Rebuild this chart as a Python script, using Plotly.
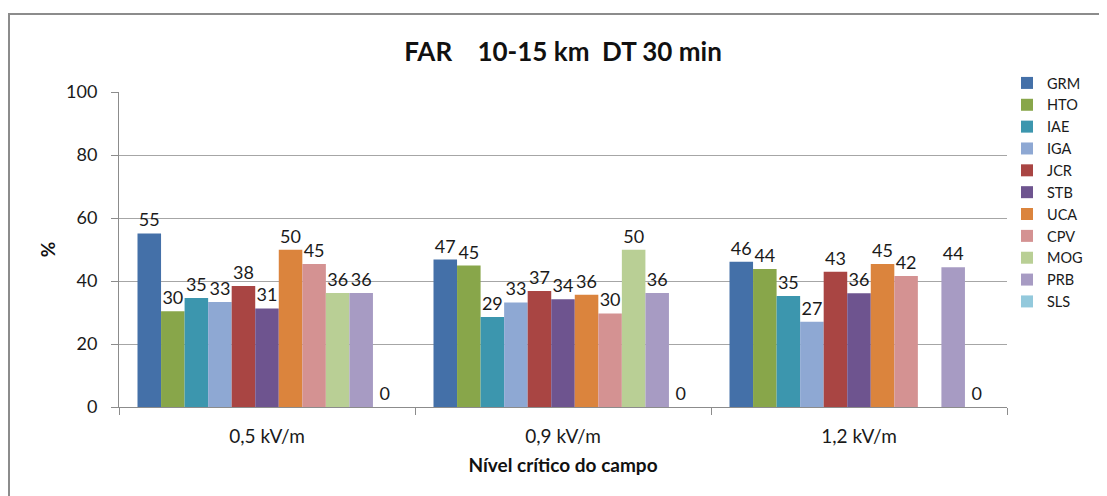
import plotly.graph_objects as go

categories = ["0,5 kV/m", "0,9 kV/m", "1,2 kV/m"]
series_names = ["GRM", "HTO", "IAE", "IGA", "JCR", "STB", "UCA", "CPV", "MOG", "PRB", "SLS"]

GRM = [55.1, 46.8, 46.1]
HTO = [30.4, 44.9, 43.8]
IAE = [34.6, 28.6, 35.2]
IGA = [33.3, 33.2, 27.1]
JCR = [38.4, 36.8, 42.9]
STB = [31.3, 34.2, 36.1]
UCA = [49.9, 35.6, 45.4]
CPV = [45.4, 29.7, 41.6]
MOG = [36.2, 49.9, None]
PRB = [36.2, 36.2, 44.4]
SLS = [0, 0, 0]

series_values = [GRM, HTO, IAE, IGA, JCR, STB, UCA, CPV, MOG, PRB, SLS]
colors = ["#4470A8", "#88A64A", "#3C96AE", "#8EA8D3", "#A94543", "#6E548F",
          "#DB843D", "#D49292", "#B9CF95", "#A79BC3", "#93C9DC"]

y_ticks = [0, 20, 40, 60, 80, 100]

FONT = "Lato, Open Sans, sans-serif"

# page has an 8px body margin; figure is sized so the drawing lands where the reference has it
W, H = 1099, 488
ML, MT, MR, MB = 111, 84, 100, 89
PW, PH = W - ML - MR, H - MT - MB

fig = go.Figure()
for name, vals, col in zip(series_names, series_values, colors):
    fig.add_trace(go.Bar(
        name=name, x=categories, y=vals,
        marker=dict(color=col, line=dict(width=0)),
        text=["" if v is None else f"{v:.0f}" for v in vals],
        textposition="outside",
        constraintext="none",
        cliponaxis=False,
        textfont=dict(family=FONT, size=18, color="#1a1a1a"),
    ))

fig.update_layout(
    width=W, height=H,
    margin=dict(l=ML, r=MR, t=MT, b=MB),
    paper_bgcolor="white", plot_bgcolor="white",
    barmode="group", bargap=0.125, bargroupgap=0,
    font=dict(family=FONT, color="#1a1a1a"),
    title=dict(text="<b>FAR\u00a0\u00a0\u00a0\u00a010-15 km\u00a0\u00a0DT 30 min</b>",
               x=0.5, xref="paper", xanchor="center",
               y=1 - 44 / H, yref="container", yanchor="middle",
               font=dict(family=FONT, size=26, color="#111")),
    showlegend=True,
    legend=dict(x=1.0, xanchor="left", y=1 + (MT - 59) / PH, yanchor="top",
                font=dict(family=FONT, size=14.5, color="#1a1a1a"),
                itemwidth=30, tracegroupgap=0, bgcolor="rgba(0,0,0,0)",
                maxheight=400),
    xaxis=dict(
        type="category",
        showline=True, linecolor="#8c8c8c", linewidth=1,
        ticks="outside", tickson="boundaries", ticklen=7, tickcolor="#8c8c8c",
        ticklabelstandoff=12,
        tickfont=dict(family=FONT, size=19, color="#1a1a1a"),
        showgrid=False,
        title=dict(text="<b>Nível crítico do campo</b>", standoff=12,
                   font=dict(family=FONT, size=19, color="#111")),
    ),
    yaxis=dict(
        range=[0, 100], tickvals=y_ticks,
        showline=True, linecolor="#8c8c8c", linewidth=1,
        ticks="outside", ticklen=7, tickcolor="#8c8c8c",
        ticklabelstandoff=10,
        showgrid=True, gridcolor="#a6a6a6", gridwidth=1,
        zeroline=False,
        tickfont=dict(family=FONT, size=18, color="#1a1a1a"),
        title=dict(text="<b>%</b>", standoff=5,
                   font=dict(family=FONT, size=19, color="#111")),
    ),
    shapes=[dict(type="rect", xref="paper", yref="paper",
                 x0=(1 - ML) / PW, x1=1.3, y0=-0.5, y1=1 + (MT - 6) / PH,
                 line=dict(color="#8c8c8c", width=2), fillcolor="rgba(0,0,0,0)",
                 layer="below")],
)

fig.write_html("out.html")
